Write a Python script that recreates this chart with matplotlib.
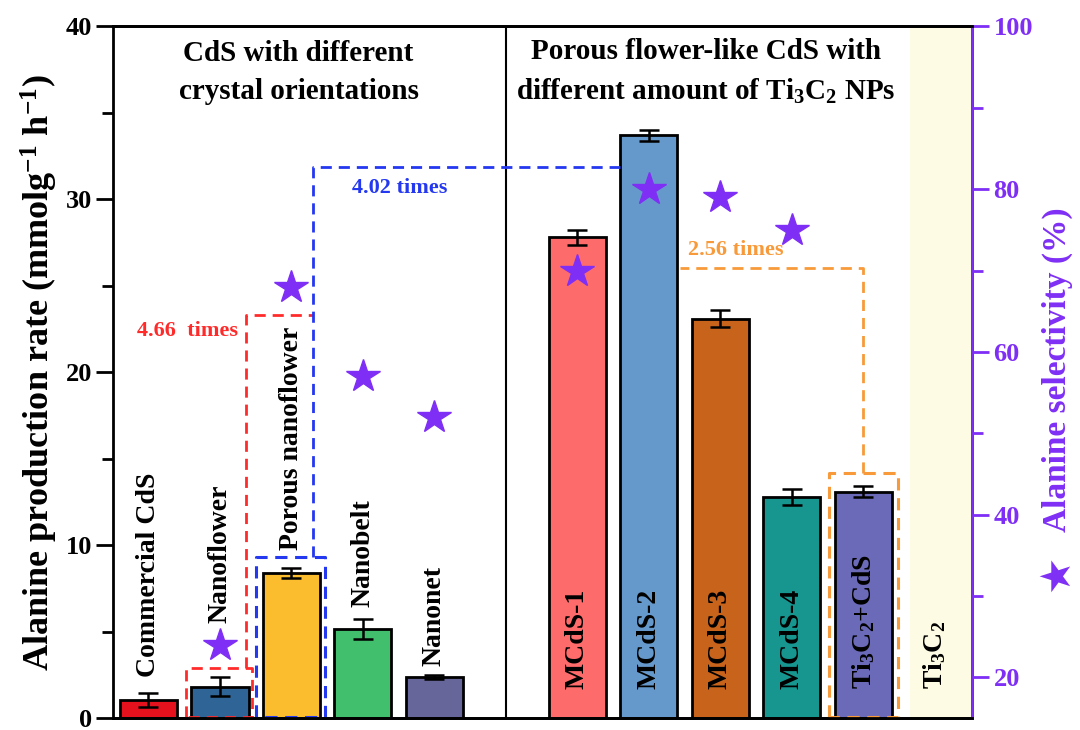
"""Alanine production rate (bars) and selectivity (stars) for CdS photocatalysts."""
import matplotlib
matplotlib.use("Agg")
import matplotlib.pyplot as plt
import numpy as np

plt.rcParams["font.family"] = ["Liberation Serif", "DejaVu Sans"]
plt.rcParams["font.weight"] = "bold"
plt.rcParams["mathtext.fontset"] = "custom"
plt.rcParams["mathtext.rm"] = "Liberation Serif:bold"
plt.rcParams["mathtext.bf"] = "Liberation Serif:bold"
plt.rcParams["mathtext.default"] = "bf"

# --- data -------------------------------------------------------------
left_names = ["Commercial CdS", "Nanoflower", "Porous nanoflower", "Nanobelt", "Nanonet"]
left_rate = [1.05, 1.8, 8.4, 5.15, 2.37]
left_err = [0.4, 0.55, 0.3, 0.6, 0.1]
left_sel = [np.nan, 24, 68, 57, 52]
left_colors = ["#e5121e", "#2f6596", "#fbbd2e", "#41bf6c", "#66669a"]
left_label_y = [2.4, 5.5, 9.7, 6.4, 3.0]

right_names = ["MCdS-1", "MCdS-2", "MCdS-3", "MCdS-4",
               "Ti$_3$C$_2$+CdS", "Ti$_3$C$_2$"]
right_rate = [27.8, 33.7, 23.1, 12.8, 13.1, 0.0]
right_err = [0.45, 0.3, 0.5, 0.45, 0.3, 0.0]
right_sel = [70, 80, 79, 75, np.nan, np.nan]
right_colors = ["#fe6b6b", "#6699cb", "#c8631c", "#17958f", "#6b6ab8", "#fdfbe3"]

PURPLE = "#7f2ff5"
RED = "#ff2b2b"
BLUE = "#2438f0"
ORANGE = "#f89a3a"


def main():
    fig = plt.figure(figsize=(10.8, 7.3), dpi=100)
    ax = fig.add_axes([0.105, 0.0164, 0.795, 0.9473])

    xl = np.arange(len(left_names))
    xr = np.arange(len(right_names)) + 6

    # shaded Ti3C2 column
    ax.axvspan(10.65, 11.6, color="#fdfbe3", zorder=0, lw=0)

    ax.bar(xl, left_rate, width=0.8, color=left_colors, edgecolor="black",
           linewidth=2, zorder=3)
    ax.bar(xr[:-1], right_rate[:-1], width=0.8, color=right_colors[:-1],
           edgecolor="black", linewidth=2, zorder=3)
    ax.errorbar(xl, left_rate, yerr=left_err, fmt="none", ecolor="black",
                elinewidth=1.8, capsize=7, capthick=1.8, zorder=4)
    ax.errorbar(xr[:-1], right_rate[:-1], yerr=right_err[:-1], fmt="none",
                ecolor="black", elinewidth=1.8, capsize=7, capthick=1.8, zorder=4)

    # bar labels
    for x, name, y in zip(xl, left_names, left_label_y):
        ax.text(x, y, name, rotation=90, ha="center", va="bottom",
                fontsize=20, fontweight="bold", zorder=5)
    for x, name in zip(xr, right_names):
        ax.text(x, 1.7, name, rotation=90, ha="center", va="bottom",
                fontsize=20, fontweight="bold", zorder=5)

    # divider between the two groups
    ax.axvline(5, color="black", lw=1.5, zorder=2)

    # dashed comparison guides
    dash = (0, (4, 2.5))
    ax.plot([0.53, 0.53, 1.45, 1.45, 0.53], [0.05, 2.9, 2.9, 0.05, 0.05],
            color=RED, ls=dash, lw=2, zorder=4, clip_on=False)
    ax.plot([1.36, 1.36, 2.30], [2.9, 23.3, 23.3], color=RED, ls=dash, lw=2, zorder=4)
    ax.plot([1.51, 1.51, 2.47, 2.47, 1.51], [0.05, 9.3, 9.3, 0.05, 0.05],
            color=BLUE, ls=dash, lw=2.2, zorder=4, clip_on=False)
    ax.plot([2.30, 2.30, 6.59], [9.3, 31.85, 31.85], color=BLUE, ls=dash, lw=2, zorder=4)
    ax.plot([9.52, 9.52, 10.48, 10.48, 9.52], [0.05, 14.2, 14.2, 0.05, 0.05],
            color=ORANGE, ls=dash, lw=2.2, zorder=4, clip_on=False)
    ax.plot([10.0, 10.0, 7.43], [14.2, 26.05, 26.05], color=ORANGE, ls=dash, lw=2, zorder=4)

    ax.text(1.25, 22.4, "4.66  times", color=RED, fontsize=16, fontweight="bold",
            ha="right", va="center")
    ax.text(3.52, 30.65, "4.02 times", color=BLUE, fontsize=16, fontweight="bold",
            ha="center", va="center")
    ax.text(8.22, 27.1, "2.56 times", color=ORANGE, fontsize=16, fontweight="bold",
            ha="center", va="center")

    # group titles
    ax.text(2.1, 37.35, "CdS with different\ncrystal orientations", ha="center",
            va="center", fontsize=21, fontweight="bold", linespacing=1.5)
    ax.text(7.8, 37.35, "Porous flower-like CdS with\ndifferent amount of Ti$_3$C$_2$ NPs",
            ha="center", va="center", fontsize=21, fontweight="bold", linespacing=1.5)

    ax.set_xlim(-0.49, 11.52)
    ax.set_ylim(0, 40)
    ax.set_xticks([])
    ax.set_yticks([0, 10, 20, 30, 40])
    ax.set_yticks([5, 15, 25, 35], minor=True)
    ax.tick_params(axis="y", which="major", direction="out", length=12, width=2,
                   labelsize=19)
    ax.tick_params(axis="y", which="minor", direction="out", length=8, width=2)
    for lab in ax.get_yticklabels():
        lab.set_fontweight("bold")
    for s in ax.spines.values():
        s.set_linewidth(2)
    ax.set_ylabel("Alanine production rate (mmolg$^{-1}$ h$^{-1}$)", fontsize=26,
                  fontweight="bold", labelpad=4)

    # selectivity on the right axis
    ax2 = ax.twinx()
    ax2.set_ylim(15, 100)
    xs = np.concatenate([xl, xr])
    sel = np.array(left_sel + right_sel, dtype=float)
    ax2.plot(xs, sel, ls="none", marker="*", ms=25, color=PURPLE, zorder=6)
    ax2.set_yticks([20, 40, 60, 80, 100])
    ax2.set_yticks([30, 50, 70, 90], minor=True)
    ax2.tick_params(axis="y", which="major", direction="out", length=12, width=2,
                    colors=PURPLE, labelsize=19)
    ax2.tick_params(axis="y", which="minor", direction="out", length=8, width=2,
                    colors=PURPLE)
    for lab in ax2.get_yticklabels():
        lab.set_fontweight("bold")
    ax2.spines["right"].set_color(PURPLE)
    ax2.spines["right"].set_linewidth(2)
    ax2.spines["left"].set_visible(False)
    ax2.spines["top"].set_linewidth(2)
    ax2.spines["bottom"].set_linewidth(2)

    fig.text(0.978, 0.214, "\u2605", color=PURPLE, fontsize=30, rotation=90,
             ha="center", va="center", family="DejaVu Sans")
    fig.text(0.979, 0.493, "Alanine selectivity (%)", color=PURPLE, fontsize=24,
             fontweight="bold", rotation=90, ha="center", va="center")

    fig.savefig("out.png", dpi=100)


if __name__ == "__main__":
    main()
